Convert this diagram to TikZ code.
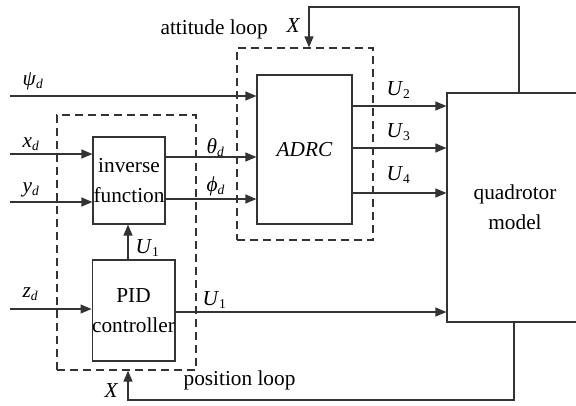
\documentclass[tikz,border=0pt]{standalone}
\usepackage{fontspec}
\setmainfont{LiberationSerif}[Extension=.ttf, UprightFont=*-Regular, ItalicFont=*-Italic, BoldFont=*-Bold, BoldItalicFont=*-BoldItalic]
\newcommand\tms{\rmfamily}
\usetikzlibrary{arrows.meta}
\definecolor{ln}{HTML}{333333}
\newcommand\sbl[2]{\textit{#1}\raisebox{-0.4ex}{\fontsize{13.5}{13.5}\selectfont #2}}
\begin{document}
\begin{tikzpicture}[x=1pt,y=-1pt, line width=1.2pt, draw=ln,
  box/.style={draw=ln, rectangle, inner sep=0pt, align=center, font=\tms\fontsize{21.3}{30}\selectfont},
  loopbox/.style={draw=ln, rectangle, inner sep=0pt, dash pattern=on 8pt off 5pt},
  arr/.style={-{Triangle[length=11pt,width=9pt]}},
  lab/.style={anchor=base west, inner sep=0pt, font=\tms\fontsize{21.3}{24}\selectfont}]
\useasboundingbox (0,0) rectangle (576,405);
% blocks
\node[box, minimum width=136pt, minimum height=229pt] (quad) at (515,207.5) {quadrotor\\model};
\node[box, minimum width=95pt, minimum height=149pt] (adrc) at (304.5,149.5) {\itshape ADRC};
\node[box, minimum width=72pt, minimum height=87pt] (inv) at (129,180.5) {inverse\\function};
\node[box, minimum width=81pt, minimum height=101pt] (pid) at (133.5,310.5) {PID\\controller};
% loops
\node[loopbox, minimum width=139pt, minimum height=255pt] (pos) at (126.5,242.5) {};
\node[loopbox, minimum width=136pt, minimum height=192pt] (att) at (305,144) {};
% helper coordinates
\coordinate (psi) at (10,96);
\coordinate (xd) at (10,154);
\coordinate (yd) at (10,202);
\coordinate (zd) at (10,309);
\coordinate (th) at (0,157);
\coordinate (ph) at (0,199);
\coordinate (ua) at (0,312);
\coordinate (u2) at (0,106);
\coordinate (u3) at (0,148);
\coordinate (u4) at (0,193);
\coordinate (uc) at (128,0);
\coordinate (ft) at (519,7);
\coordinate (fl) at (309,7);
\coordinate (fb) at (514,400);
\coordinate (fbl) at (128,400);
% connectors
\draw[arr] (psi) -- (psi -| adrc.west);
\draw[arr] (xd) -- (xd -| inv.west);
\draw[arr] (yd) -- (yd -| inv.west);
\draw[arr] (zd) -- (zd -| pid.west);
\draw[arr] (inv.east |- th) -- (adrc.west |- th);
\draw[arr] (inv.east |- ph) -- (adrc.west |- ph);
\draw[arr] (pid.north -| uc) -- (inv.south -| uc);
\draw[arr] (pid.east |- ua) -- (quad.west |- ua);
\draw[arr] (adrc.east |- u2) -- (quad.west |- u2);
\draw[arr] (adrc.east |- u3) -- (quad.west |- u3);
\draw[arr] (adrc.east |- u4) -- (quad.west |- u4);
\draw[arr] (quad.north -| ft) -- (ft) -- (fl) -- (fl |- att.north);
\draw[arr] (quad.south -| fb) -- (fb) -- (fbl) -- (fbl |- pos.south);
% labels
\node[lab] (tatt) at (160,34.5) {attitude loop};
\node[lab] (tpos) at (183,385) {position loop};
\node[lab] (xtop) at (286,32) {\textit{X}};
\node[lab] (xbot) at (104,397) {\textit{X}};
\node[lab] (lpsi) at (22,85) {\sbl{ψ}{\textit{d}}};
\node[lab] (lxd) at (22,147) {\sbl{x}{\textit{d}}};
\node[lab] (lyd) at (22,192) {\sbl{y}{\textit{d}}};
\node[lab] (lzd) at (22,297) {\sbl{z}{\textit{d}}};
\node[lab] (lth) at (206,153) {\sbl{θ}{\textit{d}}};
\node[lab] (lph) at (206,191) {\sbl{ϕ}{\textit{d}}};
\node[lab] (lu1a) at (202,305) {\sbl{U}{1}};
\node[lab] (lu1b) at (135,253) {\sbl{U}{1}};
\node[lab] (lu2) at (386,95) {\sbl{U}{2}};
\node[lab] (lu3) at (386,137) {\sbl{U}{3}};
\node[lab] (lu4) at (386,180) {\sbl{U}{4}};
\end{tikzpicture}
\end{document}
